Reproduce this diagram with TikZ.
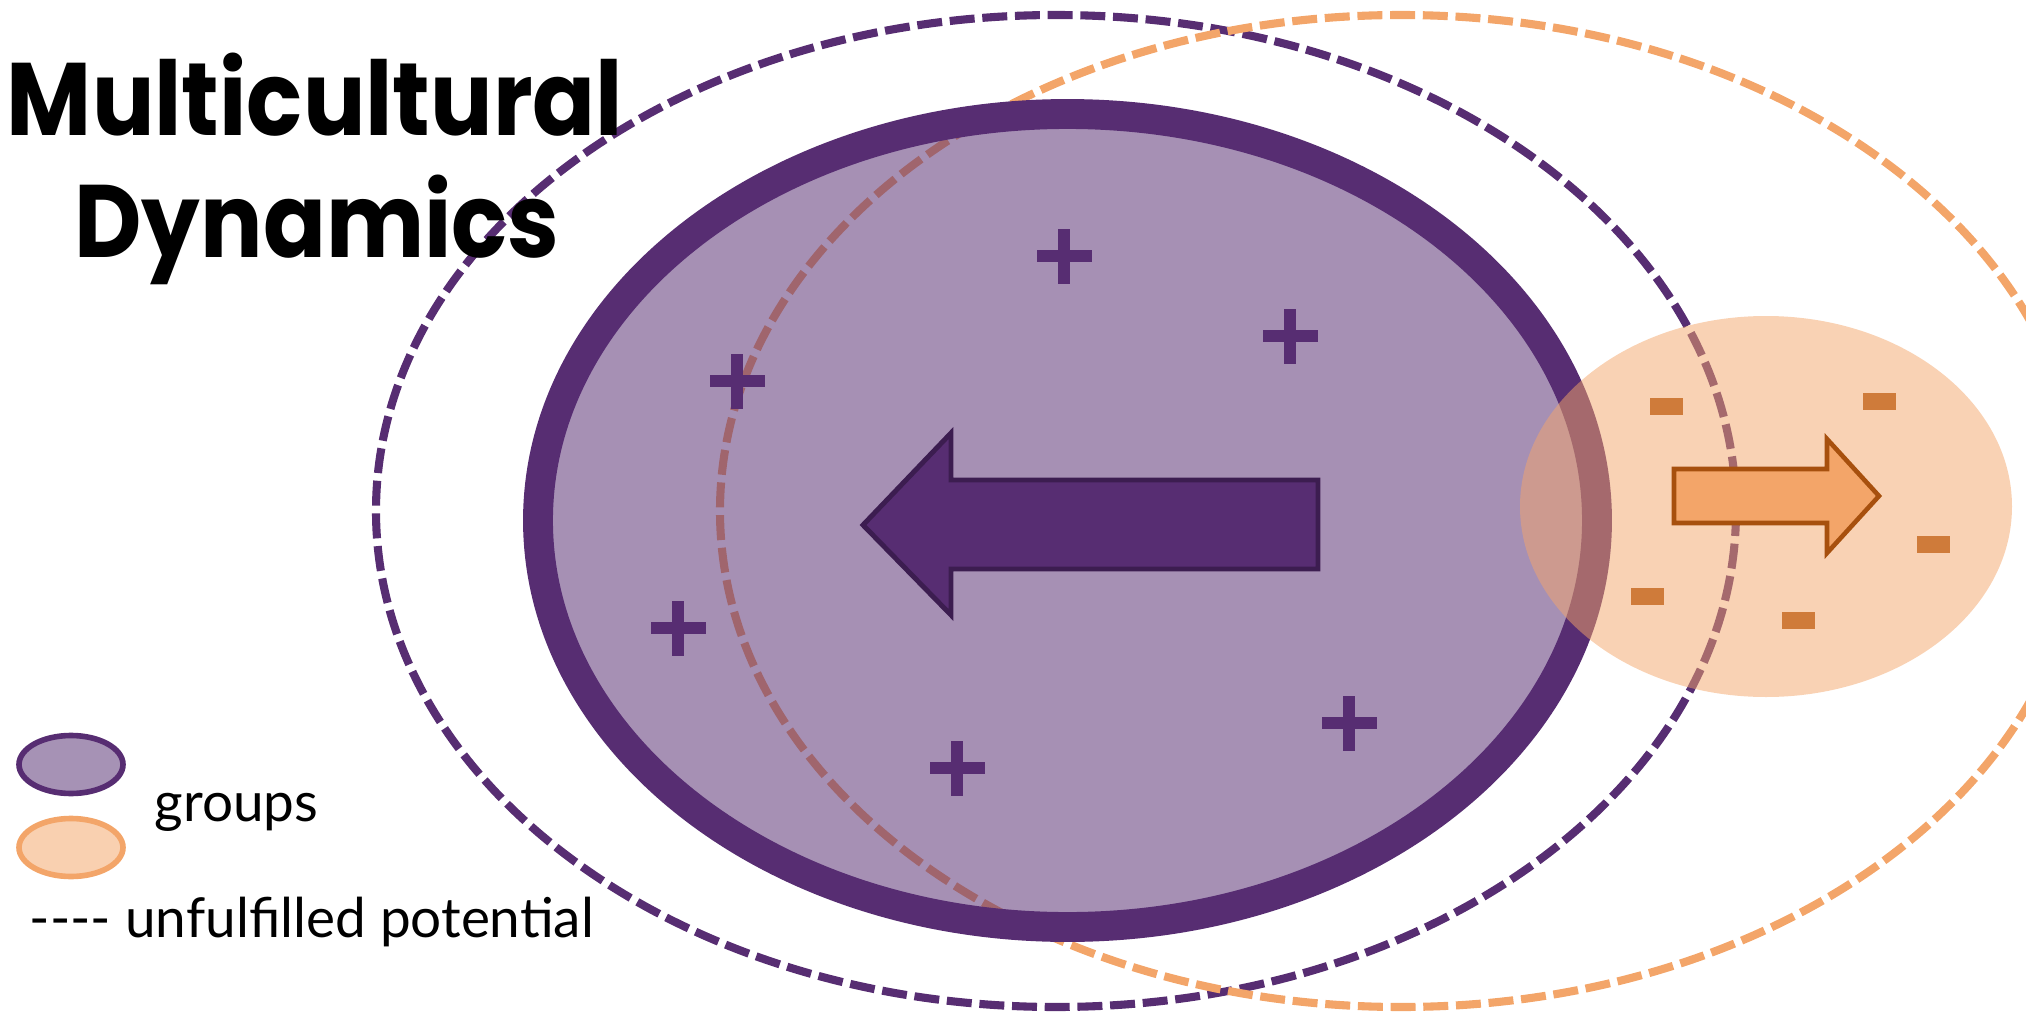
\documentclass[tikz,border=0pt]{standalone}
\usepackage{fontspec}
\setmainfont{Lato}
\newfontfamily\titlefont{Poppins}[FakeStretch=0.9]
\definecolor{grpurple}{RGB}{87,45,114}
\definecolor{grpurpledark}{RGB}{60,29,80}
\definecolor{grlightpurple}{RGB}{166,146,181}
\definecolor{grorange}{RGB}{243,165,105}
\definecolor{grorangedark}{RGB}{167,80,14}
\definecolor{grlightorange}{RGB}{249,208,176}
\definecolor{grminus}{RGB}{207,123,58}
\begin{document}
\begin{tikzpicture}[x=0.01cm,y=-0.01cm,
        potential/.style={line width=2.3pt,dash pattern=on 7.1pt off 2.2pt},
        title/.style={font=\titlefont\bfseries\fontsize{29.3}{30}\selectfont,anchor=base,inner sep=0pt},
        legend/.style={font=\fontsize{15.6}{18}\selectfont,anchor=base west,inner sep=0pt},
        plussign/.pic={\fill[grpurple] (-27.5,-6) rectangle (27.5,6);
            \fill[grpurple] (-6,-27.5) rectangle (6,27.5);},
        minussign/.pic={\fill[grminus] (-16.5,-8.5) rectangle (16.5,8.5);}]
        \useasboundingbox (0,0) rectangle (2026,1015);
        \draw[potential,grpurple] (1056,511) ellipse [x radius=680, y radius=496];
        \draw[potential,grorange] (1401,511) ellipse [x radius=681, y radius=496];
        \draw[grpurple,line width=8.5pt,fill=grpurple,fill opacity=0.53,draw opacity=1] (1067.5,520.5) ellipse [x radius=529.5, y radius=406.5];
        \fill[grorange,opacity=0.5] (1766,506.5) ellipse [x radius=246, y radius=190.5];
        \draw[grpurpledark,fill=grpurple,line width=1.4pt] (1318,480) -- (951,480) -- (951,433) -- (863,525) -- (951,615) -- (951,569) -- (1318,569) -- cycle;
        \draw[grorangedark,fill=grorange,line width=1.3pt] (1674,469) -- (1827,469) -- (1827,439) -- (1879,496) -- (1827,553) -- (1827,523) -- (1674,523) -- cycle;
        \pic at (1064,256) {plussign};
        \pic at (1290,336) {plussign};
        \pic at (737,381) {plussign};
        \pic at (678,628) {plussign};
        \pic at (957,768) {plussign};
        \pic at (1349,723) {plussign};
        \pic at (1666,406) {minussign};
        \pic at (1879,401) {minussign};
        \pic at (1933,544) {minussign};
        \pic at (1647,596) {minussign};
        \pic at (1798,620) {minussign};
        \node[title] (multi) at (315,135) {Multicultural};
        \node[title] (dyn) at (317,257) {Dynamics};
        \draw[grpurple,fill=grlightpurple,line width=1.6pt] (71,764.5) ellipse [x radius=52, y radius=29];
        \draw[grorange,fill=grlightorange,line width=1.6pt] (71,847.5) ellipse [x radius=52, y radius=29];
        \node[legend] (groups) at (154,821) {groups};
        \node[legend] (unful) at (29,937) {-{}-{}-{}- unfulfilled potential};
\end{tikzpicture}
\end{document}
